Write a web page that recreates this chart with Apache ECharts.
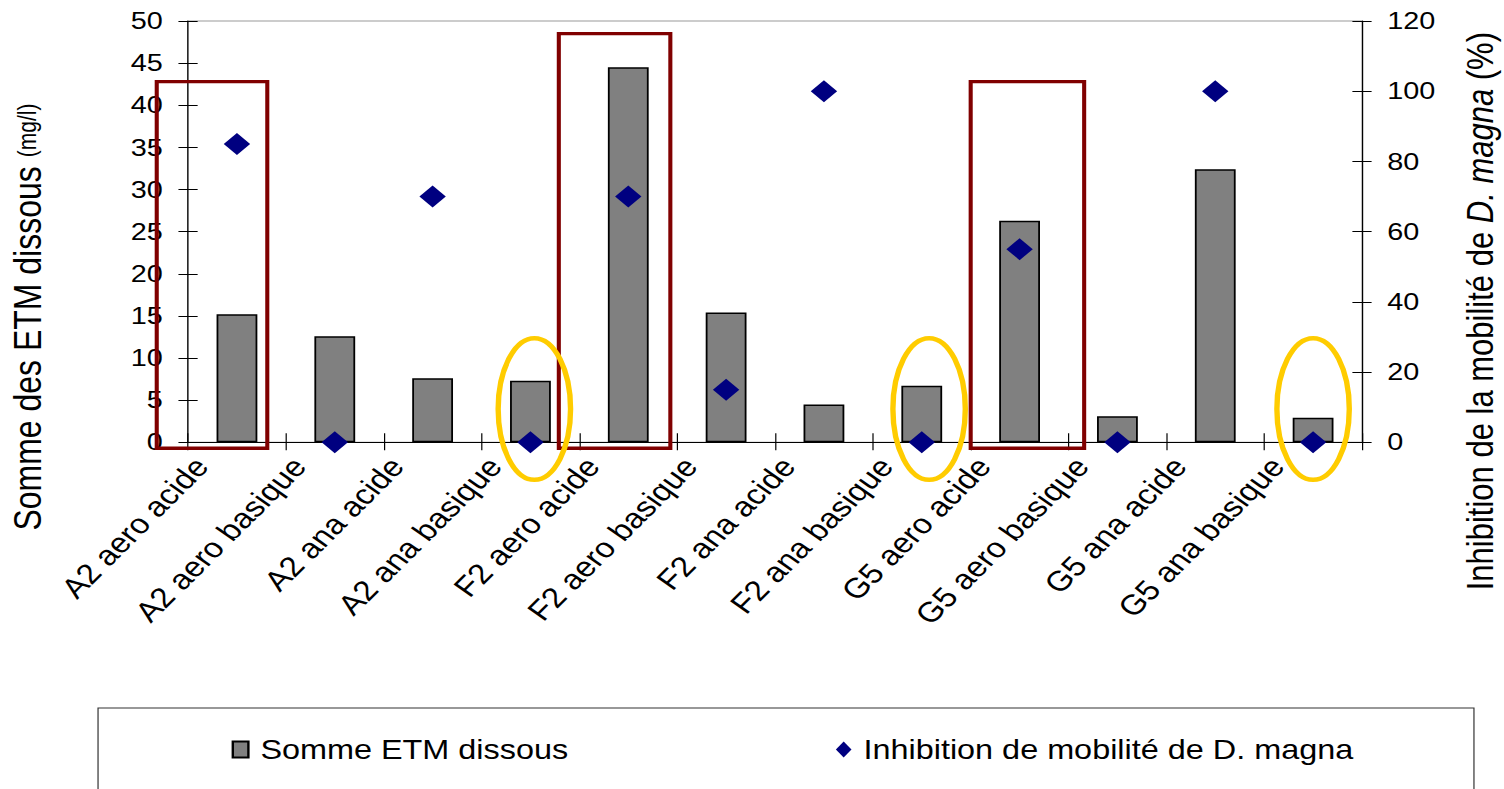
<!DOCTYPE html>
<html>
<head>
<meta charset="utf-8">
<script src="https://cdn.jsdelivr.net/npm/echarts@6/dist/echarts.min.js"></script>
<style>
  html, body { margin: 0; padding: 0; background: #fff; overflow: hidden; }
  #wrap { width: 1504px; height: 789px; overflow: hidden; }
  /* the chart is laid out narrower and widened horizontally, like the original Excel export */
  #chart { width: 1253.33px; height: 789px; transform: scaleX(1.2); transform-origin: 0 0; }
</style>
</head>
<body>
<div id="wrap"><div id="chart"></div></div>
<script>
// Samples (site, aeration, pH)
const categories = [
  'A2 aero acide', 'A2 aero basique', 'A2 ana acide', 'A2 ana basique',
  'F2 aero acide', 'F2 aero basique', 'F2 ana acide', 'F2 ana basique',
  'G5 aero acide', 'G5 aero basique', 'G5 ana acide', 'G5 ana basique'
];
// Sum of dissolved trace metals (mg/l), left axis
const sommeETM = [15.2, 12.6, 7.6, 7.3, 44.5, 15.4, 4.5, 6.7, 26.3, 3.1, 32.4, 2.9];
// Daphnia magna mobility inhibition (%), right axis
const inhibition = [85, 0, 70, 0, 70, 15, 100, 0, 55, 0, 100, 0];

// Axis ranges
const leftAxisRange = { min: 0, max: 50, interval: 5 };
const rightAxisRange = { min: 0, max: 120, interval: 20 };

// Highlighted samples: framed groups (category span, top value) and circled samples
const frames = [
  { from: -0.82, to: 0.31, top: 42.8 },
  { from: 3.29, to: 4.43, top: 48.5 },
  { from: 7.5, to: 8.66, top: 42.8 }
];
const circled = [3.04, 7.075, 11.0];

const FONT = "'Liberation Sans', Arial, sans-serif";
const chart = echarts.init(document.getElementById('chart'), null, { renderer: 'svg' });

const black = '#000';
const yBase = (range, pos, showLine, inside, showLabel) => ({
  type: 'value',
  position: pos,
  min: range.min, max: range.max, interval: range.interval,
  splitLine: { show: false },
  axisLine: { show: showLine, lineStyle: { color: black, width: 1 } },
  axisTick: { show: true, inside: inside, length: 8, lineStyle: { color: black, width: 1 } },
  axisLabel: { show: showLabel, color: black, fontFamily: FONT, fontSize: 24, margin: 21 }
});

const leftY = yBase(leftAxisRange, 'left', true, false, true);
leftY.name = '{a|Somme des ETM dissous }{b|(mg/l)}';
leftY.nameLocation = 'middle';
leftY.nameRotate = 90;
leftY.nameGap = 118;
leftY.nameTextStyle = {
  color: black, fontFamily: FONT, padding: [0, 171, 0, 0],
  rich: { a: { fontSize: 32, fontFamily: FONT, color: black }, b: { fontSize: 21, fontFamily: FONT, color: black } }
};

const rightY = yBase(rightAxisRange, 'right', true, false, true);
rightY.name = '{a|Inhibition de la mobilité de }{i|D. magna}{a| (%)}';
rightY.nameLocation = 'middle';
rightY.nameRotate = 90;
rightY.nameGap = 83;
rightY.nameTextStyle = {
  color: black, fontFamily: FONT, padding: [0, 159, 0, 0],
  rich: {
    a: { fontSize: 31, fontFamily: FONT, color: black },
    i: { fontSize: 31, fontFamily: FONT, color: black, fontStyle: 'italic' }
  }
};

chart.setOption({
  animation: false,
  backgroundColor: '#fff',
  grid: {
    left: 156.7, top: 21, width: 978.3, height: 421.3,
    outerBoundsMode: 'none', containLabel: false,
    show: true, borderColor: '#999', borderWidth: 1, backgroundColor: 'transparent'
  },
  legend: {
    left: 188, top: 731,
    itemWidth: 13, itemHeight: 16, itemGap: 223,
    textStyle: { fontFamily: FONT, fontSize: 27, color: black, padding: [0, 0, 0, 5] },
    data: [
      { name: 'Somme ETM dissous', icon: 'rect' },
      { name: 'Inhibition de mobilité de D. magna', icon: 'diamond' }
    ]
  },
  xAxis: [
    {
      type: 'category', position: 'bottom', data: categories,
      axisLine: { lineStyle: { color: black, width: 1 } },
      axisTick: { show: true, length: 8, interval: 0, lineStyle: { color: black } },
      axisLabel: {
        interval: 0, rotate: 50, margin: -16, padding: [0, 46, 0, 0],
        color: black, fontFamily: FONT, fontSize: 28
      }
    },
    {
      type: 'category', position: 'bottom', data: categories,
      axisLine: { show: false },
      axisTick: { show: true, inside: true, length: 9, interval: 0, lineStyle: { color: black } },
      axisLabel: { show: false }
    }
  ],
  yAxis: [
    leftY,
    rightY,
    yBase(leftAxisRange, 'left', false, true, false),
    yBase(rightAxisRange, 'right', false, true, false)
  ],
  series: [
    {
      name: 'Somme ETM dissous', type: 'bar', data: sommeETM,
      xAxisIndex: 0, yAxisIndex: 0, barWidth: 34, z: 2,
      itemStyle: { color: '#808080', borderColor: black, borderWidth: 1.5 }
    },
    {
      name: 'Inhibition de mobilité de D. magna', type: 'scatter', data: inhibition,
      xAxisIndex: 0, yAxisIndex: 1, symbol: 'diamond', symbolSize: [22, 22], z: 3,
      itemStyle: { color: '#000080', opacity: 1 }
    }
  ]
});

// Position of a fractional category index and a left-axis value in pixels
function toPixel(catPos, value) {
  const a = chart.convertToPixel({ xAxisIndex: 0 }, 0);
  const b = chart.convertToPixel({ xAxisIndex: 0 }, 1);
  return [a + (b - a) * catPos, chart.convertToPixel({ yAxisIndex: 0 }, value)];
}

const frameBottom = -0.71;
const ringCenter = 3.95, ringHalfWidth = 0.37, ringHalfHeight = 8.4;

const graphics = [];
frames.forEach(f => {
  const p0 = toPixel(f.from, f.top);
  const p1 = toPixel(f.to, frameBottom);
  graphics.push({
    type: 'rect', z: 100,
    shape: { x: p0[0], y: p0[1], width: p1[0] - p0[0], height: p1[1] - p0[1] },
    style: { fill: 'none', stroke: '#800000', lineWidth: 3.4 }
  });
});
circled.forEach(c => {
  const ctr = toPixel(c, ringCenter);
  const edge = toPixel(c + ringHalfWidth, ringCenter + ringHalfHeight);
  graphics.push({
    type: 'ellipse', z: 100,
    shape: { cx: ctr[0], cy: ctr[1], rx: edge[0] - ctr[0], ry: ctr[1] - edge[1] },
    style: { fill: 'none', stroke: '#FFCC00', lineWidth: 4.5 }
  });
});
// legend frame
graphics.push({
  type: 'rect', z: 0,
  shape: { x: 81.7, y: 708, width: 1146.6, height: 100 },
  style: { fill: 'none', stroke: '#333', lineWidth: 1 }
});
chart.setOption({ graphic: graphics });
</script>
</body>
</html>
